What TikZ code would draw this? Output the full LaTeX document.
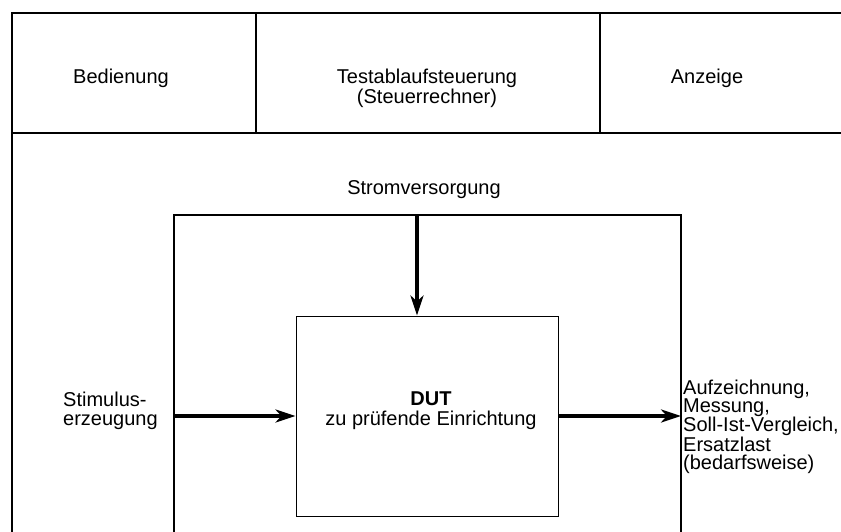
\documentclass[tikz,border=0pt]{standalone}
\usepackage{fontspec}
\setmainfont{Liberation Sans}
\usetikzlibrary{arrows.meta}
\begin{document}
\begin{tikzpicture}[x=1pt,y=-1pt,
  frame/.style={line width=2pt},
  innerframe/.style={line width=1.5pt},
  lbl/.style={inner sep=0pt, font=\fontsize{20}{18.3}\selectfont},
  flow/.style={line width=3.3pt, -{Stealth[length=20pt,width=13pt,inset=6pt]}}]
\clip (0,0) rectangle (841,531);
\fill[white] (0,0) rectangle (841,531);
% top frame
\draw[frame] (850,13) -- (12,13) -- (12,540);
\draw[frame] (12,133) -- (850,133);
\draw[frame] (256,13) -- (256,133);
\draw[frame] (600,13) -- (600,133);
% inner frame
\draw[innerframe] (174,540) -- (174,215) -- (681,215) -- (681,540);
% DUT box
\node[draw, line width=1pt, minimum width=262pt, minimum height=200pt, inner sep=0pt] (dut) at (427,416) {};
% connector end points
\coordinate (pwr) at (417,215);
\coordinate (stim) at (174,416);
\coordinate (out) at (681,416);
\draw[flow] (pwr) -- (pwr |- dut.north);
\draw[flow] (stim) -- (stim -| dut.west);
\draw[flow] (dut.east |- out) -- (out);
% labels (anchor base = baseline of the last line)
\node[lbl, anchor=base] (bed) at (121,83) {Bedienung};
\node[lbl, anchor=base, align=center, font=\fontsize{20}{20.7}\selectfont] (tas) at (427,103.7) {Testablaufsteuerung\\(Steuerrechner)};
\node[lbl, anchor=base] (anz) at (707,83) {Anzeige};
\node[lbl, anchor=base] (strom) at (424,194) {Stromversorgung};
\node[lbl, anchor=base, align=center, font=\fontsize{20}{20}\selectfont] (dutlbl) at (431,425) {\textbf{DUT}\\zu prüfende Einrichtung};
\node[lbl, anchor=base west, align=left] (stimlbl) at (63,425) {Stimulus-\\erzeugung};
\node[lbl, anchor=base west, align=left] (outlbl) at (683,469.9) {Aufzeichnung,\\Messung,\\Soll-Ist-Vergleich,\\Ersatzlast\\(bedarfsweise)};
\end{tikzpicture}
\end{document}
